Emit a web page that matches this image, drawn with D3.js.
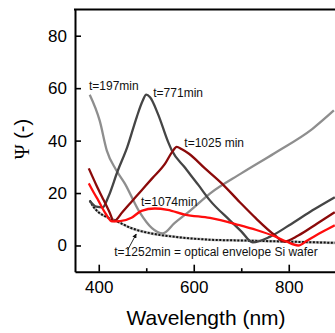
<!DOCTYPE html>
<html><head><meta charset="utf-8">
<script src="https://cdn.jsdelivr.net/npm/d3@7"></script>
<style>
html,body{margin:0;padding:0;background:#fff;overflow:hidden}
svg{display:block;font-family:"Liberation Sans",Arial,sans-serif}
</style></head>
<body>
<svg id="c" width="335" height="333"></svg>
<script>
// ---- data (wavelength in nm, Psi in degrees) ----
const wl197  = [381, 402, 417, 436, 455, 486, 512, 535, 560, 592, 634, 700, 770, 850, 895];
const psi197 = [57.5, 47.6, 36.2, 29, 23.6, 12.7, 6.6, 4.6, 8.6, 13.2, 19.8, 27.5, 35.2, 44.5, 51.5];

const wl771  = [381, 395, 408, 420, 440, 460, 480, 492, 500, 508, 525, 546, 554, 580, 610, 634, 676, 700, 724, 760, 800, 850, 897];
const psi771 = [17, 14.8, 14.5, 18.5, 28.5, 37.5, 49, 55, 57.5, 56.5, 50, 39.5, 36.2, 30, 23, 17.2, 9.6, 5.4, 1.2, 3.3, 7.6, 13.4, 18.4];

const wl1025  = [379, 395, 410, 422, 432, 450, 470, 490, 512, 540, 555, 564, 575, 590, 623, 660, 697, 730, 770, 790, 820, 860, 897];
const psi1025 = [29.4, 23, 17.4, 13, 9.3, 12.8, 16.9, 21, 25.5, 31.3, 35.8, 37.6, 36.7, 35, 29.5, 23.5, 16.5, 10.5, 4, 1.5, 3.8, 8.4, 12.7];

const wl1074  = [379, 390, 399, 415, 428, 445, 469, 490, 518, 545, 581, 634, 693, 732, 770, 795, 820, 840, 870, 897];
const psi1074 = [23.7, 20, 17.2, 12, 9.2, 9.3, 10.6, 13.2, 14.1, 13.6, 11.8, 10.5, 7.9, 5.9, 3.5, 1.5, 0, 2, 5.1, 7.7];

const wlEnv  = [381, 390, 399, 415, 434, 469, 486, 505, 560, 634, 700, 770, 897];
const psiEnv = [17.2, 14.5, 12.8, 11, 9.6, 6.6, 5.6, 4.8, 3.3, 2.2, 1.9, 1.6, 1.0];

const xMajorTicks = [400, 600, 800];
const xMinorTicks = [500, 700, 900];
const yTicks = [0, 20, 40, 60, 80];

const series = [
  {wl: wl197,  psi: psi197,  color: "#8e8e8e"},
  {wl: wl771,  psi: psi771,  color: "#454545"},
  {wl: wl1025, psi: psi1025, color: "#8b0a0a"},
  {wl: wl1074, psi: psi1074, color: "#ff0d0d"}
];

const labels = [
  {text: "t=197min",  wl: 379.5, psi: 59.3},
  {text: "t=771min",  wl: 514.8, psi: 56.7},
  {text: "t=1025 min", wl: 580.1, psi: 37.6},
  {text: "t=1074min", wl: 488.9, psi: 15.2},
  {text: "t=1252min = optical envelope Si wafer", wl: 432.7, psi: -4.1}
];

// ---- layout ----
const svg = d3.select("#c");
const mLeft = 75, mTop = 9.5, mBottom = 271.7;
const x = d3.scaleLinear().domain([350, 1000]).range([mLeft, mLeft + 650 * 0.475]);
const y = d3.scaleLinear().domain([-10, 90]).range([mBottom, mTop]);

const line = d3.line().x(d => x(d[0])).y(d => y(d[1])).curve(d3.curveMonotoneX);
const pts = (a, b) => a.map((w, i) => [w, b[i]]);

// envelope (under)
const env = pts(wlEnv, psiEnv);
svg.append("path").attr("d", line(env)).attr("fill", "none")
  .attr("stroke", "#b5b5b5").attr("stroke-width", 2.6);
svg.append("path").attr("d", line(env)).attr("fill", "none")
  .attr("stroke", "#111").attr("stroke-width", 2).attr("stroke-dasharray", "2,1.6");

series.forEach(s => {
  svg.append("path").attr("d", line(pts(s.wl, s.psi))).attr("fill", "none")
    .attr("stroke", s.color).attr("stroke-width", 2.3).attr("stroke-linejoin", "round");
});

// axes
const gx = svg.append("g").attr("transform", `translate(0,${mBottom})`)
  .call(d3.axisBottom(x).tickValues(xMajorTicks).tickSizeInner(-7).tickSizeOuter(0).tickPadding(9.5));
const gxm = svg.append("g").attr("transform", `translate(0,${mBottom})`)
  .call(d3.axisBottom(x).tickValues(xMinorTicks).tickSizeInner(-3.5).tickSizeOuter(0).tickFormat(""));
const gy = svg.append("g").attr("transform", `translate(${mLeft},0)`)
  .call(d3.axisLeft(y).tickValues(yTicks).tickSizeInner(-6).tickSizeOuter(0).tickPadding(8));
[gx, gxm, gy].forEach(g => {
  g.selectAll("path.domain").attr("stroke", "#000").attr("stroke-width", 2);
  g.selectAll(".tick line").attr("stroke", "#000").attr("stroke-width", 1.6);
  g.selectAll(".tick text").attr("fill", "#000").attr("font-size", 17)
    .attr("font-family", "Liberation Sans, Arial, sans-serif");
});
gxm.select("path.domain").remove();
// top frame line
svg.append("line").attr("x1", mLeft - 1).attr("x2", x(1000)).attr("y1", mTop).attr("y2", mTop)
  .attr("stroke", "#000").attr("stroke-width", 2);

// axis titles
svg.append("text").attr("x", 206).attr("y", 325).attr("text-anchor", "middle")
  .attr("font-size", 21).text("Wavelength (nm)");
const yt = svg.append("text").attr("transform", "translate(29,139) rotate(-90)")
  .attr("text-anchor", "middle").attr("font-size", 20);
yt.append("tspan").attr("font-family", "Liberation Serif, serif").text("Ψ");
yt.append("tspan").text(" (-)");

// annotations
labels.forEach(l => {
  svg.append("text").attr("x", x(l.wl)).attr("y", y(l.psi))
    .attr("font-size", 12).attr("fill", "#111").text(l.text);
});

// arrow to envelope
svg.append("defs").append("marker").attr("id", "ah").attr("viewBox", "0 0 10 10")
  .attr("refX", 9).attr("refY", 5).attr("markerWidth", 5).attr("markerHeight", 5)
  .attr("orient", "auto").append("path").attr("d", "M0,0L10,5L0,10z").attr("fill", "#111");
svg.append("line").attr("x1", x(461)).attr("y1", y(-1.7)).attr("x2", x(479)).attr("y2", y(4.4))
  .attr("stroke", "#111").attr("stroke-width", 0.9).attr("marker-end", "url(#ah)");
</script>
</body></html>
